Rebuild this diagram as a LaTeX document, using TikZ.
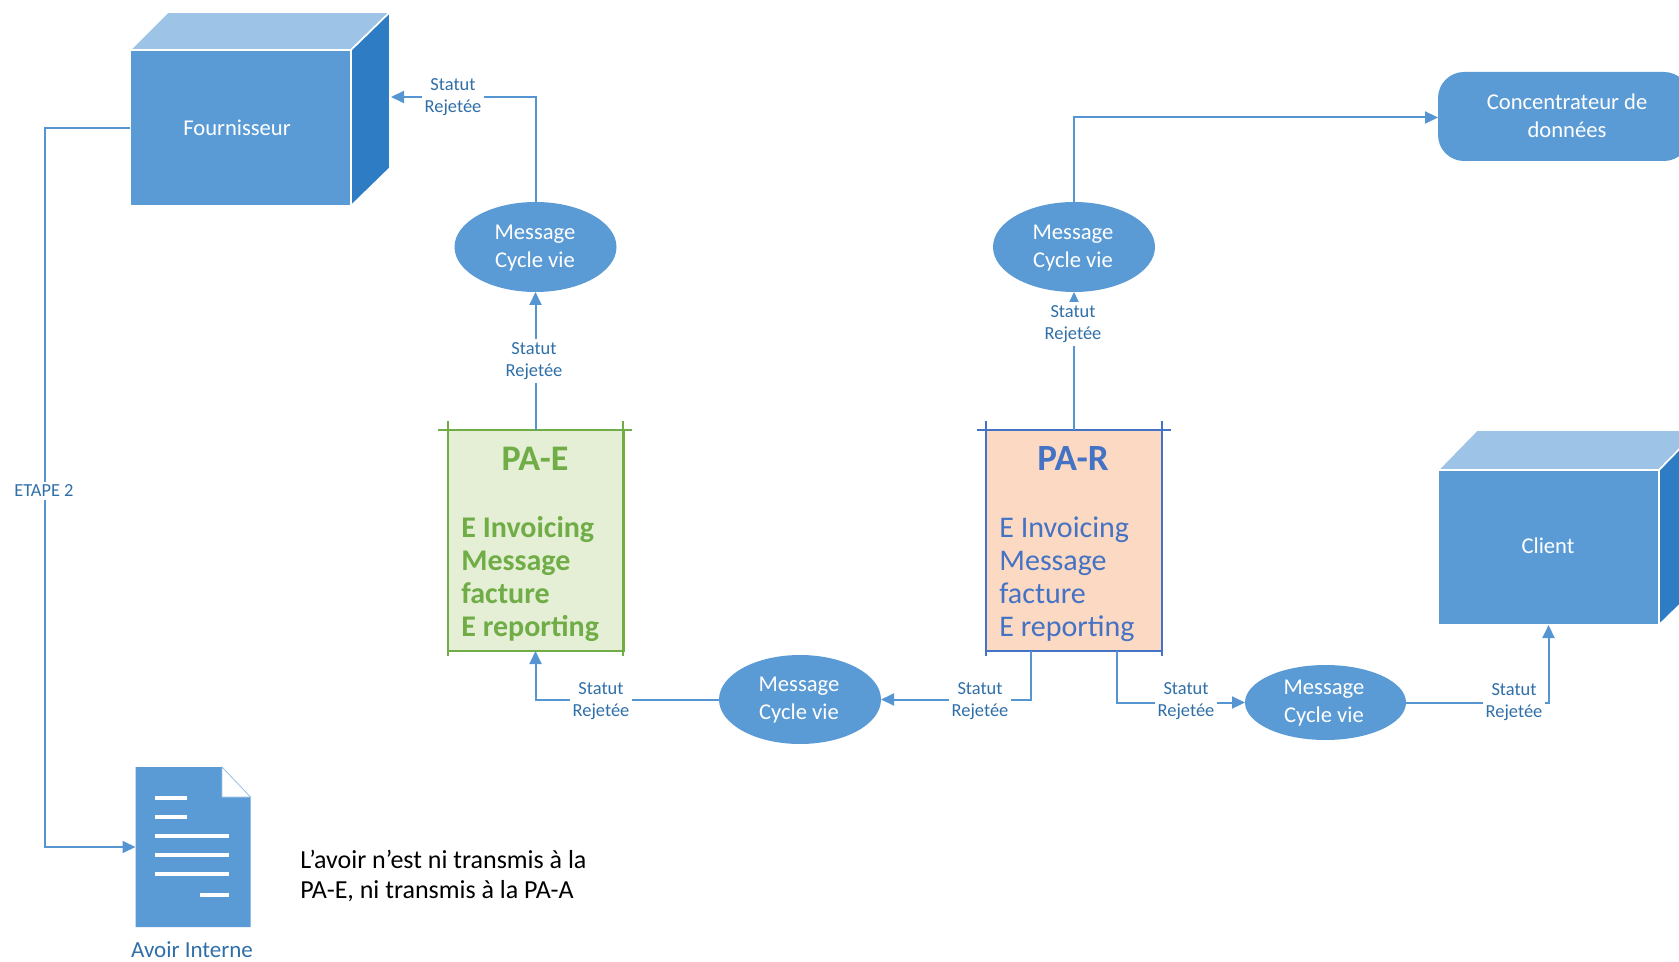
\documentclass[tikz,border=0pt]{standalone}
\usepackage{fontspec}
\setmainfont{Carlito}
\usetikzlibrary{arrows.meta,shapes.geometric,calc}
\definecolor{bluefill}{HTML}{5B9BD5}
\definecolor{bluetop}{HTML}{9DC3E6}
\definecolor{blueside}{HTML}{2E7DC4}
\definecolor{linkblue}{HTML}{5596D2}
\definecolor{labblue}{HTML}{2F6FA8}
\definecolor{greenfill}{HTML}{E4EFD5}
\definecolor{greenline}{HTML}{70AD47}
\definecolor{orangefill}{HTML}{FBD9C3}
\definecolor{parblue}{HTML}{4472C4}
\tikzset{
  front/.style={rectangle,fill=bluefill,draw=white,line width=.8pt,inner sep=0pt,outer sep=0pt,text=white,font=\fontsize{11.3}{14}\selectfont},
  cubetop/.style={fill=bluetop,draw=white,line width=.8pt},
  cubeside/.style={fill=blueside,draw=white,line width=.8pt},
  msg/.style={ellipse,fill=bluefill,inner sep=0pt,outer sep=0pt,text=white,align=center,font=\fontsize{11.3}{14}\selectfont},
  msgtext/.style={text=white,align=center,inner sep=0pt,font=\fontsize{11.3}{14}\selectfont},
  link/.style={draw=linkblue,line width=1pt,-{Triangle[length=6.5pt,width=6pt]}},
  lab/.style={fill=white,text=labblue,align=center,inner sep=1.5pt,font=\fontsize{9.2}{11}\selectfont},
  pabox/.style={rectangle,inner sep=0pt,outer sep=0pt,line width=1pt,minimum width=88pt,minimum height=110.5pt},
  body/.style={align=left,anchor=north west,inner sep=0pt,font=\fontsize{15}{16.5}\selectfont},
  tick/.style={line width=.8pt},
  docline/.style={draw=white,line width=2.4pt}
}
\begin{document}
\begin{tikzpicture}[x=0.5pt,y=-0.5pt]
\clip (0,0) rectangle (1679,962);
% Fournisseur
\path[cubetop] (130,50) -- (168,12) -- (390,12) -- (351,50) -- cycle;
\path[cubeside] (351,50) -- (390,12) -- (390,168) -- (351,206) -- cycle;
\node[front,minimum width=110.5pt,minimum height=78pt] (four) at (240.5,128) {};
\node[text=white,inner sep=0pt,font=\fontsize{11.3}{14}\selectfont] (fourt) at (237,128) {Fournisseur};
% Client
\path[cubetop] (1438,470) -- (1477,430) -- (1698,430) -- (1659,470) -- cycle;
\path[cubeside] (1659,470) -- (1698,430) -- (1698,587) -- (1659,625) -- cycle;
\node[front,minimum width=110.5pt,minimum height=77.5pt] (client) at (1548.5,547.5) {};
\node[msgtext] (clientt) at (1548,546) {Client};
% Concentrateur
\node[rectangle,rounded corners=13pt,fill=bluefill,inner sep=0pt,outer sep=0pt,minimum width=126pt,minimum height=44.5pt] (conc) at (1564,116.5) {};
\node[msgtext] (conct) at (1567,116) {Concentrateur de\\données};
% Ellipses
\node[msg,minimum width=81pt,minimum height=45pt] (e1) at (535.5,247) {};
\node[msg,minimum width=81pt,minimum height=45pt] (e2) at (1074,247) {};
\node[msg,minimum width=81pt,minimum height=44.5pt] (e3) at (800,699.5) {};
\node[msg,minimum width=80.5pt,minimum height=37.5pt] (e4) at (1325.5,702.5) {};
\node[msgtext] (e1t) at (535,248) {Message\\Cycle vie};
\node[msgtext] (e2t) at (1073,248) {Message\\Cycle vie};
\node[msgtext] (e3t) at (799,700.5) {Message\\Cycle vie};
\node[msgtext] (e4t) at (1324,703) {Message\\Cycle vie};
% PA-E
\node[pabox,draw=greenline,fill=greenfill] (pae) at (535.5,540.5) {};
\draw[tick,greenline] (438,430) -- (632,430) (448,421) -- (448,656) (623,421) -- (623,656);
\node[text=greenline,inner sep=0pt,font=\fontsize{18}{20}\bfseries\selectfont] (paet) at (535,459) {PA-E};
\node[body,text=greenline,font=\fontsize{15}{16.5}\bfseries\selectfont] (paeb) at (461,516.5) {E Invoicing\\Message\\facture\\E reporting};
% PA-R
\node[pabox,draw=parblue,fill=orangefill] (par) at (1074,540.5) {};
\draw[tick,parblue] (977,430) -- (1171,430) (986,421) -- (986,656) (1162,421) -- (1162,656);
\node[text=parblue,inner sep=0pt,font=\fontsize{18.5}{20}\bfseries\selectfont] (part) at (1073,459) {PA-R};
\node[body,text=parblue] (parb) at (999,516.5) {E Invoicing\\Message\\facture\\E reporting};
% Document
\node[rectangle,inner sep=0pt,outer sep=0pt,minimum width=57.5pt,minimum height=80pt] (doc) at (193,847) {};
\fill[bluefill] (135.5,767) -- (222,767) -- (250.5,797) -- (250.5,927) -- (135.5,927) -- cycle;
\path[fill=white,draw=bluetop,line width=.4pt] (222,767) -- (250.5,797) -- (222,797) -- cycle;
\draw[docline] (155,798) -- (187,798) (155,817) -- (187,817) (155,836) -- (229,836) (155,855) -- (229,855) (155,874) -- (229,874) (200,895) -- (229,895);
% Free ends
\coordinate (fourside) at (391,97);
% Connectors
\draw[link] (e1.north) |- (fourside);
\draw[link] (pae.north) -- (e1.south);
\draw[link] (par.north) -- (e2.south);
\draw[link] (e2.north) |- ([yshift=-.5pt]conc.west);
\draw[link] (e3.west) -| (pae.south);
\draw[link] ([xshift=-21.5pt]par.south) |- (e3.east);
\draw[link] ([xshift=21.5pt]par.south) |- (e4.west);
\draw[link] (e4.east) -| (client.south);
\draw[link] (four.west) -| (45,490) |- (doc.west);
% Labels
\node[lab] (l1) at (453,97) {Statut\\Rejetée};
\node[lab] (l2) at (534,361) {Statut\\Rejetée};
\node[lab] (l3) at (1073,324) {Statut\\Rejetée};
\node[lab] (l4) at (601,701) {Statut\\Rejetée};
\node[lab] (l5) at (980,701) {Statut\\Rejetée};
\node[lab] (l6) at (1186,701) {Statut\\Rejetée};
\node[lab] (l7) at (1514,702) {Statut\\Rejetée};
\node[lab] (etape) at (44,491) {ETAPE 2};
% Free text
\node[anchor=north,inner sep=0pt,text=labblue,font=\fontsize{11.5}{14}\selectfont] (avoir) at (192,941) {Avoir Interne};
\node[anchor=west,align=left,inner sep=0pt,text=black,font=\fontsize{13}{15}\selectfont] (note) at (300,876) {L’avoir n’est ni transmis à la\\PA-E, ni transmis à la PA-A};
\end{tikzpicture}
\end{document}
